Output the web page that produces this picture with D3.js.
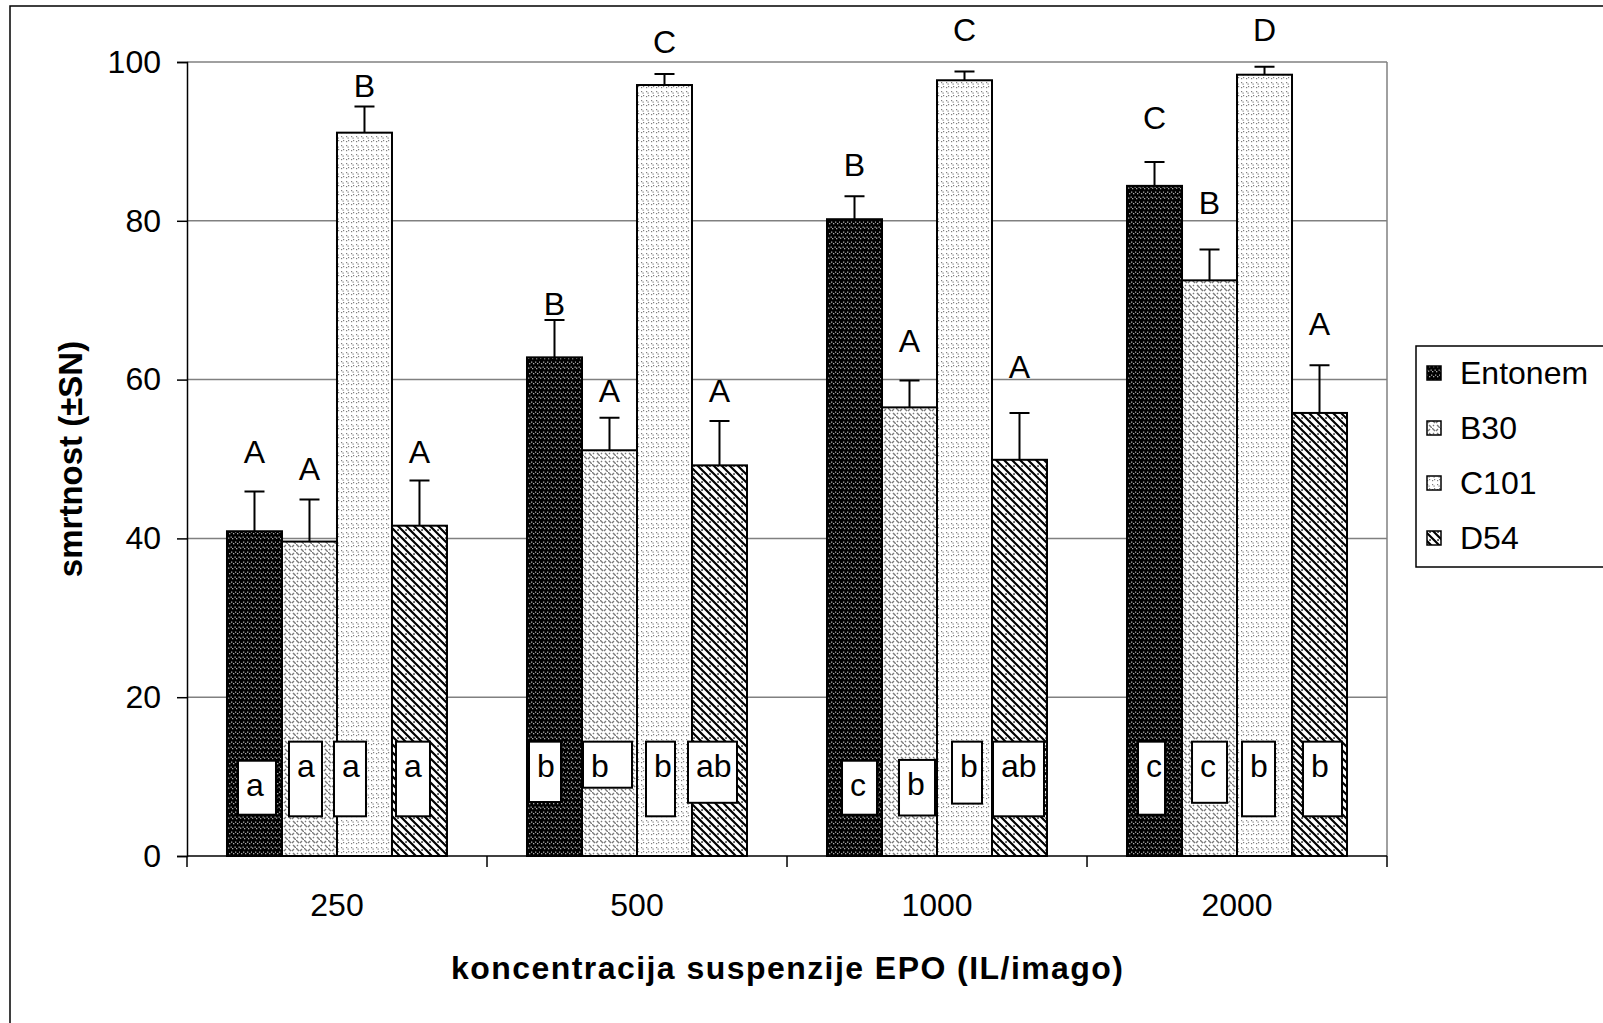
<html>
<head>
<style>
  body { margin: 0; background: #fff; }
  text { font-family: Arial, "Liberation Sans", sans-serif; fill: #000; }
  .grid { stroke: #808080; stroke-width: 1.5; }
  .bar { stroke: #000; stroke-width: 2; }
  .err { stroke: #000; stroke-width: 2; fill: none; }
  .box { fill: #fff; stroke: #000; stroke-width: 2; }
</style>
</head>
<body>
<svg id="chart" width="1603" height="1023"></svg>
<script src="https://d3js.org/d3.v7.min.js"></script>
<script>
// data
const categories = ["250", "500", "1000", "2000"]
const series = ["Entonem", "B30", "C101", "D54"]

const entonem = [40.9, 62.8, 80.2, 84.4]
const b30     = [39.6, 51.1, 56.5, 72.5]
const c101    = [91.1, 97.1, 97.7, 98.4]
const d54     = [41.6, 49.2, 49.9, 55.8]

const entonemSd = [5.0, 4.7, 2.9, 3.0]
const b30Sd     = [5.3, 4.1, 3.4, 3.9]
const c101Sd    = [3.3, 1.4, 1.1, 1.0]
const d54Sd     = [5.7, 5.6, 5.9, 6.0]

// significance letters
const upperLetters = [["A", "B", "B", "C"], ["A", "A", "A", "B"], ["B", "C", "C", "D"], ["A", "A", "A", "A"]]
const lowerLetters = [["a", "b", "c", "c"], ["a", "b", "b", "c"], ["a", "b", "b", "b"], ["a", "ab", "ab", "b"]]

const yTicks = [0, 20, 40, 60, 80, 100]

const means = [entonem, b30, c101, d54]
const sds = [entonemSd, b30Sd, c101Sd, d54Sd]

// hand placed annotation boxes in the original: [dx from bar, width, top value, bottom value]
const boxLayout = [
  [[11, 38, 12.0, 5.2], [2, 32, 14.4, 6.8], [15, 35, 12.0, 5.2], [11, 27, 14.4, 5.2]],
  [[7, 33, 14.4, 5.0], [1, 49, 14.4, 8.6], [17, 36, 12.1, 5.1], [10, 35, 14.4, 6.7]],
  [[-3, 32, 14.4, 5.0], [9, 29, 14.4, 5.0], [15, 30, 14.4, 6.6], [5, 33, 14.4, 5.0]],
  [[4, 34, 14.4, 5.0], [-4, 49, 14.4, 6.7], [1, 51, 14.4, 5.0], [11, 39, 14.4, 5.0]]
]
// baseline of the capital letters (in y units)
const upperPos = [
  [49.5, 68.1, 85.6, 91.5],
  [47.4, 57.2, 63.5, 80.9],
  [95.6, 101.1, 102.7, 102.6],
  [49.5, 57.2, 60.2, 65.6]
]

let svg = d3.select("#chart")
let pLeft = 187, pRight = 1387, pTop = 62, pBottom = 856

// patterns
let defs = svg.append("defs")

let p0 = defs.append("pattern").attr("id", "pat0").attr("patternUnits", "userSpaceOnUse")
  .attr("width", 12).attr("height", 10)
p0.append("rect").attr("width", 12).attr("height", 10).attr("fill", "#000")
let dots0 = [[1, 3], [3, 1.5], [5, 3], [7, 1.5], [9, 3], [11, 1.5], [0, 7.5], [2.5, 6.5], [4, 8], [6.5, 6.5], [8, 8], [10.5, 6.5]]
p0.selectAll("rect.d").data(dots0).enter().append("rect").attr("class", "d")
  .attr("x", d => d[0]).attr("y", d => d[1]).attr("width", 1.3).attr("height", 1.3).attr("fill", "#a8a8a8")

let p1 = defs.append("pattern").attr("id", "pat1").attr("patternUnits", "userSpaceOnUse")
  .attr("width", 8).attr("height", 8)
p1.append("rect").attr("width", 8).attr("height", 8).attr("fill", "#fff")
p1.append("path").attr("d", "M0,0L3,3M5,5L8,8M6,1L4,3M2,5L1,6M7,6L6,7")
  .attr("stroke", "#7a7a7a").attr("stroke-width", 1.4)

let p2 = defs.append("pattern").attr("id", "pat2").attr("patternUnits", "userSpaceOnUse")
  .attr("width", 10).attr("height", 9)
p2.append("rect").attr("width", 10).attr("height", 9).attr("fill", "#fff")
let dots2 = [[1, 1], [2.5, 2.5], [6, 1], [7.5, 2.5], [1, 6], [3, 5], [6, 6], [8, 5]]
p2.selectAll("rect.d").data(dots2).enter().append("rect").attr("class", "d")
  .attr("x", d => d[0]).attr("y", d => d[1]).attr("width", 1.2).attr("height", 1.2).attr("fill", "#808080")

let p3 = defs.append("pattern").attr("id", "pat3").attr("patternUnits", "userSpaceOnUse")
  .attr("width", 8).attr("height", 8)
p3.append("rect").attr("width", 8).attr("height", 8).attr("fill", "#fff")
p3.append("path").attr("d", "M-1,-1L9,9M-2,6L2,10M6,-2L10,2")
  .attr("stroke", "#000").attr("stroke-width", 2.2)
p3.append("rect").attr("x", 5.3).attr("y", 1.3).attr("width", 1.5).attr("height", 1.5).attr("fill", "#000")

// outer frame
svg.append("rect").attr("x", 10).attr("y", 6).attr("width", 1620).attr("height", 1040)
  .attr("fill", "none").attr("stroke", "#000").attr("stroke-width", 1.5)

let y = d3.scaleLinear().domain([0, 100]).range([pBottom, pTop])
let x0 = d3.scaleBand().domain(categories).range([pLeft, pRight])
  .paddingInner(0.2667).paddingOuter(0.1333)
let x1 = d3.scaleBand().domain(series).range([0, x0.bandwidth()])

// gridlines
svg.selectAll(".grid").data(yTicks.slice(1)).enter().append("line").attr("class", "grid")
  .attr("x1", pLeft).attr("x2", pRight).attr("y1", d => y(d)).attr("y2", d => y(d))
svg.append("line").attr("class", "grid").attr("x1", pRight).attr("x2", pRight).attr("y1", pTop).attr("y2", pBottom)

// y axis
let yAxis = d3.axisLeft(y).tickValues(yTicks).tickSize(10).tickPadding(16).tickFormat(d3.format("d"))
let gy = svg.append("g").attr("transform", `translate(${pLeft},0)`).call(yAxis)
gy.select(".domain").attr("stroke", "#000").attr("stroke-width", 1.5)
gy.selectAll(".tick line").attr("stroke", "#000").attr("stroke-width", 1.5)
gy.selectAll(".tick text").style("font-size", "32px").style("font-family", "Arial, 'Liberation Sans', sans-serif")

// bars
let rows = []
series.forEach((s, i) => categories.forEach((c, j) => rows.push({
  s: s, i: i, c: c, j: j, v: means[i][j], sd: sds[i][j],
  up: upperLetters[i][j], low: lowerLetters[i][j], box: boxLayout[i][j], upPos: upperPos[i][j]
})))

let bx = d => x0(d.c) + x1(d.s)
let bw = x1.bandwidth()

svg.selectAll(".bar").data(rows).enter().append("rect").attr("class", "bar")
  .attr("x", bx).attr("width", bw)
  .attr("y", d => y(d.v)).attr("height", d => y(0) - y(d.v))
  .attr("fill", d => `url(#pat${d.i})`)

// error bars (positive only)
svg.selectAll(".err").data(rows).enter().append("path").attr("class", "err")
  .attr("d", d => {
    let cx = bx(d) + bw / 2, t = y(d.v + d.sd)
    return `M${cx},${y(d.v)}V${t}M${cx - 10},${t}H${cx + 10}`
  })

// x axis
let gx = svg.append("g").attr("transform", `translate(0,${pBottom})`)
gx.append("line").attr("x1", pLeft).attr("x2", pRight).attr("stroke", "#000").attr("stroke-width", 1.5)
let bounds = categories.map(c => x0(c) - x0.step() * x0.paddingOuter()).concat([pRight])
gx.selectAll(".tk").data(bounds).enter().append("line")
  .attr("x1", d => d).attr("x2", d => d).attr("y1", 0).attr("y2", 11)
  .attr("stroke", "#000").attr("stroke-width", 1.5)
gx.selectAll(".lbl").data(categories).enter().append("text")
  .attr("x", d => x0(d) + x0.bandwidth() / 2).attr("y", 60)
  .attr("text-anchor", "middle").style("font-size", "32px").text(d => d)

// upper letters
svg.selectAll(".up").data(rows).enter().append("text")
  .attr("x", d => bx(d) + bw / 2).attr("y", d => y(d.upPos))
  .attr("text-anchor", "middle").style("font-size", "32px").text(d => d.up)

// lower letter boxes
svg.selectAll(".box").data(rows).enter().append("rect").attr("class", "box")
  .attr("x", d => bx(d) + d.box[0]).attr("width", d => d.box[1])
  .attr("y", d => y(d.box[2])).attr("height", d => y(d.box[3]) - y(d.box[2]))
svg.selectAll(".low").data(rows).enter().append("text")
  .attr("x", d => bx(d) + d.box[0] + 8).attr("y", d => y(d.box[2]) + 35)
  .style("font-size", "32px").text(d => d.low)

// axis titles
svg.append("text").attr("x", (pLeft + pRight) / 2).attr("y", 979)
  .attr("text-anchor", "middle").style("font-size", "32px").style("font-weight", "bold")
  .attr("textLength", 672).attr("lengthAdjust", "spacing")
  .text("koncentracija suspenzije EPO (IL/imago)")
svg.append("text").attr("transform", `translate(82,${(pTop + pBottom) / 2}) rotate(-90)`)
  .attr("text-anchor", "middle").style("font-size", "33px").style("font-weight", "bold")
  .text("smrtnost (±SN)")

// legend
let lg = svg.append("g").attr("transform", "translate(1416,346)")
lg.append("rect").attr("width", 200).attr("height", 221).attr("fill", "#fff")
  .attr("stroke", "#000").attr("stroke-width", 1.5)
let item = lg.selectAll(".item").data(series).enter().append("g")
  .attr("transform", (d, i) => `translate(0,${27 + i * 55})`)
item.append("rect").attr("x", 11).attr("y", -7).attr("width", 14).attr("height", 14)
  .attr("fill", (d, i) => `url(#pat${i})`).attr("stroke", "#000").attr("stroke-width", 1.5)
item.append("text").attr("x", 44).attr("y", 11).style("font-size", "32px").text(d => d)
</script>
</body>
</html>
